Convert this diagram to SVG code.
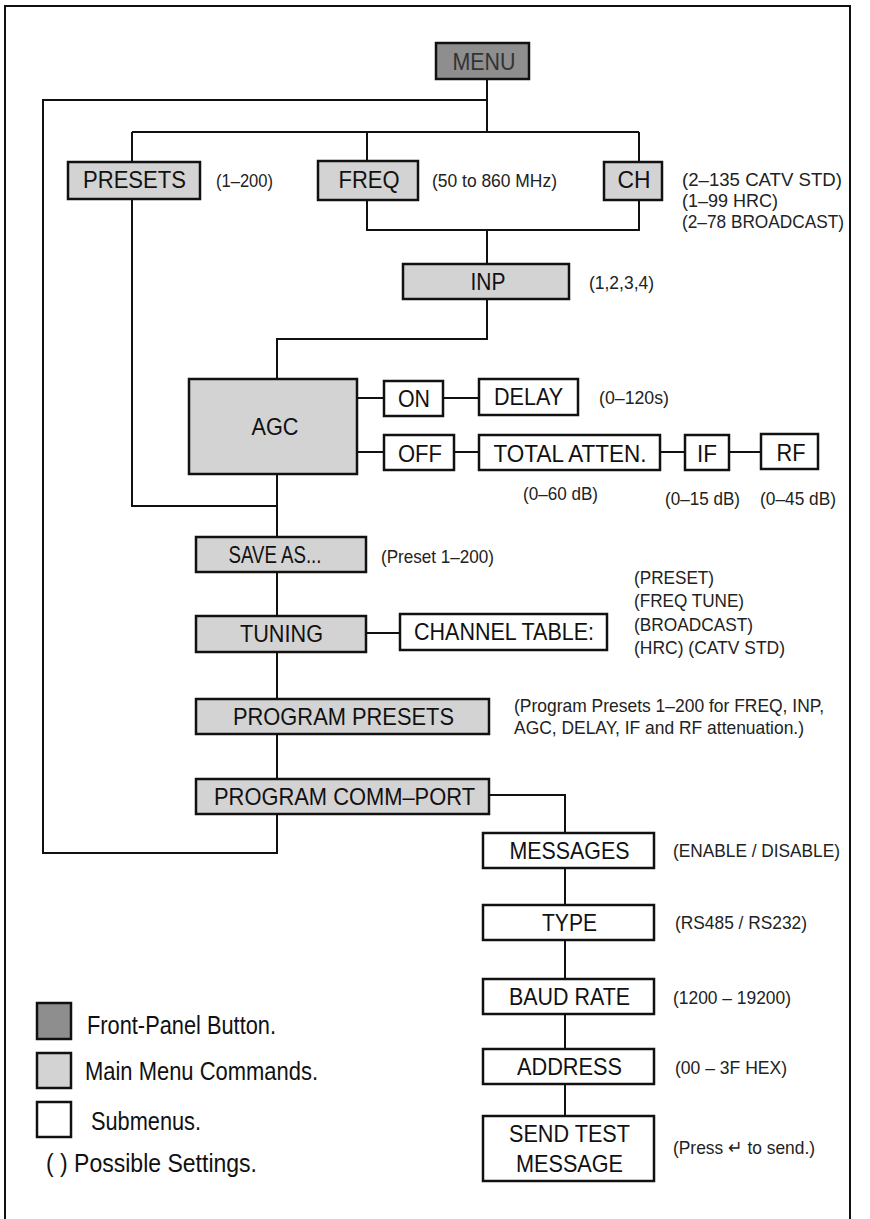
<svg xmlns="http://www.w3.org/2000/svg" width="870" height="1219" viewBox="0 0 870 1219">
<style>
.ln{stroke:#111;stroke-width:2;fill:none}
.btn{fill:#8e8e8e;stroke:#111;stroke-width:2.5}
.cmd{fill:#d3d3d3;stroke:#111;stroke-width:2.5}
.sub{fill:#fff;stroke:#111;stroke-width:2.5}
.t{font-family:"Liberation Sans",Arial,sans-serif;font-size:24px;fill:#111;text-anchor:middle}
.l{font-family:"Liberation Sans",Arial,sans-serif;font-size:19px;fill:#222}
.g{font-family:"Liberation Sans",Arial,sans-serif;font-size:25px;fill:#111}
</style>
<rect width="870" height="1219" fill="#fff"/>
<polyline class="ln" points="5,1219 5,6 850,6 850,1219"/>
<g id="connectors">
<line class="ln" x1="487" y1="79" x2="487" y2="132"/>
<polyline class="ln" points="487,100 43,100 43,853 277,853 277,815"/>
<line class="ln" x1="132" y1="132" x2="639" y2="132"/>
<line class="ln" x1="132" y1="132" x2="132" y2="162"/>
<line class="ln" x1="367" y1="132" x2="367" y2="161"/>
<line class="ln" x1="639" y1="132" x2="639" y2="162"/>
<polyline class="ln" points="367,200 367,230 639,230 639,200"/>
<line class="ln" x1="487" y1="230" x2="487" y2="264"/>
<polyline class="ln" points="487,299 487,339 277,339 277,379"/>
<polyline class="ln" points="132,199 132,506 277,506"/>
<line class="ln" x1="277" y1="474" x2="277" y2="537"/>
<line class="ln" x1="357" y1="398" x2="384" y2="398"/>
<line class="ln" x1="443" y1="398" x2="479" y2="398"/>
<line class="ln" x1="357" y1="452" x2="384" y2="452"/>
<line class="ln" x1="454" y1="452" x2="479" y2="452"/>
<line class="ln" x1="660" y1="452" x2="685" y2="452"/>
<line class="ln" x1="729" y1="452" x2="761" y2="452"/>
<line class="ln" x1="277" y1="572" x2="277" y2="616"/>
<line class="ln" x1="366" y1="633" x2="400" y2="633"/>
<line class="ln" x1="277" y1="652" x2="277" y2="699"/>
<line class="ln" x1="277" y1="734" x2="277" y2="779"/>
<polyline class="ln" points="489,795 565,795 565,833"/>
<line class="ln" x1="565" y1="868" x2="565" y2="905"/>
<line class="ln" x1="565" y1="940" x2="565" y2="979"/>
<line class="ln" x1="565" y1="1014" x2="565" y2="1049"/>
<line class="ln" x1="565" y1="1084" x2="565" y2="1116"/>
</g>
<g id="menu"><rect class="btn" x="436" y="43" width="93" height="36"/><text class="t" x="484" y="70" textLength="63" lengthAdjust="spacingAndGlyphs" style="fill:#333">MENU</text></g>
<g id="presets"><rect class="cmd" x="68" y="162" width="132" height="37"/><text class="t" x="134.5" y="188" textLength="103" lengthAdjust="spacingAndGlyphs">PRESETS</text><text class="l" x="216" y="187" textLength="57" lengthAdjust="spacingAndGlyphs">(1–200)</text></g>
<g id="freq"><rect class="cmd" x="318" y="161" width="100" height="39"/><text class="t" x="369" y="188" textLength="61" lengthAdjust="spacingAndGlyphs">FREQ</text><text class="l" x="432" y="187" textLength="125" lengthAdjust="spacingAndGlyphs">(50 to 860 MHz)</text></g>
<g id="ch"><rect class="cmd" x="604" y="162" width="58" height="38"/><text class="t" x="634" y="188" textLength="33" lengthAdjust="spacingAndGlyphs">CH</text>
<text class="l" x="682" y="186" textLength="160" lengthAdjust="spacingAndGlyphs">(2–135 CATV STD)</text>
<text class="l" x="682" y="207" textLength="96" lengthAdjust="spacingAndGlyphs">(1–99 HRC)</text>
<text class="l" x="682" y="228" textLength="162" lengthAdjust="spacingAndGlyphs">(2–78 BROADCAST)</text></g>
<g id="inp"><rect class="cmd" x="403" y="264" width="166" height="35"/><text class="t" x="488" y="290" textLength="35" lengthAdjust="spacingAndGlyphs">INP</text><text class="l" x="589" y="289" textLength="65" lengthAdjust="spacingAndGlyphs">(1,2,3,4)</text></g>
<g id="agc"><rect class="cmd" x="189" y="379" width="168" height="95"/><text class="t" x="275" y="435" textLength="47" lengthAdjust="spacingAndGlyphs">AGC</text></g>
<g id="on"><rect class="sub" x="384" y="381" width="59" height="35"/><text class="t" x="414" y="407" textLength="32" lengthAdjust="spacingAndGlyphs">ON</text></g>
<g id="delay"><rect class="sub" x="479" y="379" width="99" height="36"/><text class="t" x="528.5" y="405" textLength="69" lengthAdjust="spacingAndGlyphs">DELAY</text><text class="l" x="599" y="404" textLength="70" lengthAdjust="spacingAndGlyphs">(0–120s)</text></g>
<g id="off"><rect class="sub" x="384" y="435" width="70" height="35"/><text class="t" x="420" y="462" textLength="44" lengthAdjust="spacingAndGlyphs">OFF</text></g>
<g id="total"><rect class="sub" x="479" y="435" width="181" height="35"/><text class="t" x="570" y="462" textLength="153" lengthAdjust="spacingAndGlyphs">TOTAL ATTEN.</text><text class="l" x="523" y="500" textLength="75" lengthAdjust="spacingAndGlyphs">(0–60 dB)</text></g>
<g id="if"><rect class="sub" x="685" y="435" width="44" height="35"/><text class="t" x="707" y="462" textLength="20" lengthAdjust="spacingAndGlyphs">IF</text><text class="l" x="665" y="505" textLength="75" lengthAdjust="spacingAndGlyphs">(0–15 dB)</text></g>
<g id="rf"><rect class="sub" x="761" y="434" width="57" height="35"/><text class="t" x="791" y="461" textLength="29" lengthAdjust="spacingAndGlyphs">RF</text><text class="l" x="760" y="505" textLength="76" lengthAdjust="spacingAndGlyphs">(0–45 dB)</text></g>
<g id="saveas"><rect class="cmd" x="196" y="537" width="170" height="35"/><text class="t" x="275" y="563" textLength="93" lengthAdjust="spacingAndGlyphs">SAVE AS...</text><text class="l" x="381" y="563" textLength="113" lengthAdjust="spacingAndGlyphs">(Preset 1–200)</text></g>
<g id="tuning"><rect class="cmd" x="196" y="616" width="170" height="36"/><text class="t" x="281.5" y="642" textLength="83" lengthAdjust="spacingAndGlyphs">TUNING</text></g>
<g id="chtable"><rect class="sub" x="400" y="614" width="207" height="36"/><text class="t" x="504" y="640" textLength="180" lengthAdjust="spacingAndGlyphs">CHANNEL TABLE:</text>
<text class="l" x="634" y="584" textLength="80" lengthAdjust="spacingAndGlyphs">(PRESET)</text>
<text class="l" x="634" y="607" textLength="110" lengthAdjust="spacingAndGlyphs">(FREQ TUNE)</text>
<text class="l" x="634" y="631" textLength="119" lengthAdjust="spacingAndGlyphs">(BROADCAST)</text>
<text class="l" x="634" y="654" textLength="151" lengthAdjust="spacingAndGlyphs">(HRC) (CATV STD)</text></g>
<g id="progpresets"><rect class="cmd" x="196" y="699" width="293" height="35"/><text class="t" x="343.5" y="725" textLength="221" lengthAdjust="spacingAndGlyphs">PROGRAM PRESETS</text>
<text class="l" x="514" y="712" textLength="310" lengthAdjust="spacingAndGlyphs">(Program Presets 1–200 for FREQ, INP,</text>
<text class="l" x="514" y="734" textLength="290" lengthAdjust="spacingAndGlyphs">AGC, DELAY, IF and RF attenuation.)</text></g>
<g id="commport"><rect class="cmd" x="196" y="779" width="293" height="35"/><text class="t" x="344.5" y="805" textLength="261" lengthAdjust="spacingAndGlyphs">PROGRAM COMM–PORT</text></g>
<g id="messages"><rect class="sub" x="483" y="833" width="171" height="35"/><text class="t" x="569.5" y="859" textLength="120" lengthAdjust="spacingAndGlyphs">MESSAGES</text><text class="l" x="673" y="857" textLength="167" lengthAdjust="spacingAndGlyphs">(ENABLE / DISABLE)</text></g>
<g id="type"><rect class="sub" x="483" y="905" width="171" height="35"/><text class="t" x="569.5" y="931" textLength="55" lengthAdjust="spacingAndGlyphs">TYPE</text><text class="l" x="675" y="929" textLength="132" lengthAdjust="spacingAndGlyphs">(RS485 / RS232)</text></g>
<g id="baud"><rect class="sub" x="483" y="979" width="171" height="35"/><text class="t" x="569.5" y="1005" textLength="121" lengthAdjust="spacingAndGlyphs">BAUD RATE</text><text class="l" x="673" y="1004" textLength="118" lengthAdjust="spacingAndGlyphs">(1200 – 19200)</text></g>
<g id="address"><rect class="sub" x="483" y="1049" width="171" height="35"/><text class="t" x="569.5" y="1075" textLength="105" lengthAdjust="spacingAndGlyphs">ADDRESS</text><text class="l" x="675" y="1074" textLength="112" lengthAdjust="spacingAndGlyphs">(00 – 3F HEX)</text></g>
<g id="sendtest"><rect class="sub" x="483" y="1116" width="171" height="65"/><text class="t" x="569.5" y="1142" textLength="121" lengthAdjust="spacingAndGlyphs">SEND TEST</text><text class="t" x="569.5" y="1172" textLength="107" lengthAdjust="spacingAndGlyphs">MESSAGE</text><text class="l" x="673" y="1154" textLength="142" lengthAdjust="spacingAndGlyphs">(Press ↵ to send.)</text></g>
<g id="legend">
<rect class="btn" x="37" y="1003" width="34" height="36"/>
<text class="g" x="87" y="1034" textLength="189" lengthAdjust="spacingAndGlyphs">Front-Panel Button.</text>
<rect class="cmd" x="37" y="1053" width="34" height="35"/>
<text class="g" x="85" y="1080" textLength="233" lengthAdjust="spacingAndGlyphs">Main Menu Commands.</text>
<rect class="sub" x="37" y="1102" width="34" height="35"/>
<text class="g" x="91" y="1130" textLength="110" lengthAdjust="spacingAndGlyphs">Submenus.</text>
<text class="g" x="46" y="1172" textLength="211" lengthAdjust="spacingAndGlyphs">( ) Possible Settings.</text>
</g>
</svg>
